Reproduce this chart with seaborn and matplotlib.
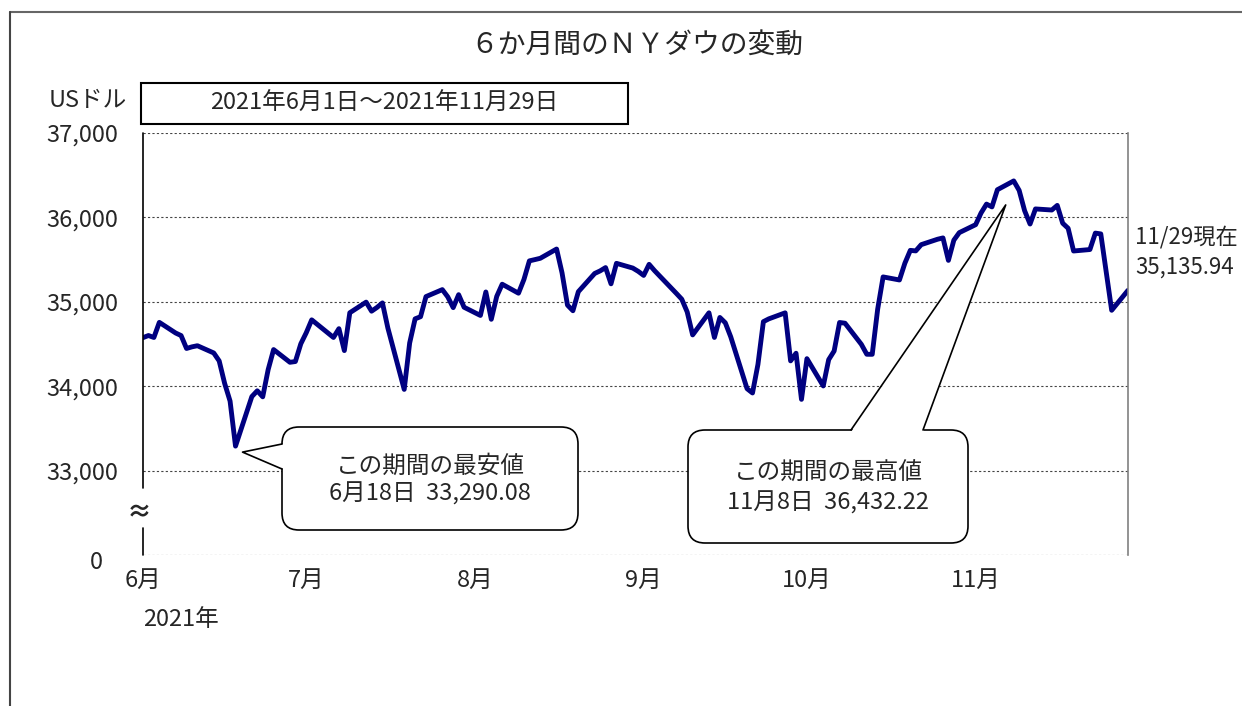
import matplotlib
matplotlib.use("Agg")
import matplotlib.pyplot as plt
import matplotlib.dates as mdates
import matplotlib.transforms as mtransforms
from matplotlib.patches import FancyBboxPatch, Polygon, Rectangle
from matplotlib.lines import Line2D
import pandas as pd
import seaborn as sns

# NYダウ 終値 (2021/6/1 - 2021/11/29)
jun_days = [1, 2, 3, 4, 7, 8, 9, 10, 11, 14, 15, 16, 17, 18, 21, 22, 23, 24, 25, 28, 29, 30]
jun_close = [34575.31, 34600.38, 34577.37, 34756.39, 34630.24, 34599.82, 34447.14, 34466.24,
             34479.60, 34393.75, 34299.33, 34033.67, 33823.45, 33290.08, 33876.97, 33945.58,
             33874.24, 34196.82, 34433.84, 34283.27, 34292.29, 34502.51]
jul_days = [1, 2, 6, 7, 8, 9, 12, 13, 14, 15, 16, 19, 20, 21, 22, 23, 26, 27, 28, 29, 30]
jul_close = [34633.53, 34786.35, 34577.37, 34681.79, 34421.93, 34870.16, 34996.18, 34888.79,
             34933.23, 34987.02, 34687.85, 33962.04, 34511.99, 34798.00, 34823.35, 35061.55,
             35144.31, 35058.52, 34930.93, 35084.53, 34935.47]
aug_days = [2, 3, 4, 5, 6, 9, 10, 11, 12, 13, 16, 17, 18, 19, 20, 23, 24, 25, 26, 27, 30, 31]
aug_close = [34838.16, 35116.40, 34792.67, 35064.25, 35208.51, 35101.85, 35264.67, 35484.97,
             35499.85, 35515.38, 35625.40, 35343.28, 34960.69, 34894.12, 35120.08, 35335.71,
             35366.26, 35405.50, 35213.12, 35455.80, 35399.84, 35360.73]
sep_days = [1, 2, 3, 7, 8, 9, 10, 13, 14, 15, 16, 17, 20, 21, 22, 23, 24, 27, 28, 29, 30]
sep_close = [35312.53, 35443.82, 35369.09, 35100.00, 35031.07, 34879.38, 34607.72, 34869.63,
             34577.57, 34814.39, 34751.32, 34584.88, 33970.47, 33919.84, 34258.32, 34764.82,
             34798.00, 34869.37, 34299.99, 34390.72, 33843.92]
oct_days = [1, 4, 5, 6, 7, 8, 11, 12, 13, 14, 15, 18, 19, 20, 21, 22, 25, 26, 27, 28, 29]
oct_close = [34326.46, 34002.92, 34314.67, 34416.99, 34754.94, 34746.25, 34496.06, 34378.34,
             34377.81, 34912.56, 35294.76, 35258.61, 35457.31, 35609.34, 35603.08, 35677.02,
             35741.15, 35756.88, 35490.69, 35730.48, 35819.56]
nov_days = [1, 2, 3, 4, 5, 8, 9, 10, 11, 12, 15, 16, 17, 18, 19, 22, 23, 24, 26, 29]
nov_close = [35913.84, 36052.63, 36157.58, 36124.23, 36327.95, 36432.22, 36319.98, 36079.94,
             35921.23, 36100.31, 36087.45, 36142.22, 35931.05, 35870.95, 35601.98, 35619.25,
             35813.80, 35804.38, 34899.34, 35135.94]

month_ticks = ["2021-06-01", "2021-07-01", "2021-08-01", "2021-09-01", "2021-10-01", "2021-11-01"]
month_labels = ["6月", "7月", "8月", "9月", "10月", "11月"]
y_ticks = [32000, 33000, 34000, 35000, 36000, 37000]
y_labels = ["0", "33,000", "34,000", "35,000", "36,000", "37,000"]

rows = []
for m, days, vals in [(6, jun_days, jun_close), (7, jul_days, jul_close), (8, aug_days, aug_close),
                      (9, sep_days, sep_close), (10, oct_days, oct_close), (11, nov_days, nov_close)]:
    for d, v in zip(days, vals):
        rows.append((pd.Timestamp(2021, m, d), v))
df = pd.DataFrame(rows, columns=["date", "close"])

sns.set_style("white")
plt.rcParams["font.family"] = ["Noto Sans CJK JP", "DejaVu Sans"]

W, H = 1242, 706
fig = plt.figure(figsize=(W / 100, H / 100), dpi=100)


def fx(x):
    return x / W


def fy(y):
    return 1 - y / H


ax = fig.add_axes([fx(143), fy(555), (1128 - 143) / W, (555 - 133) / H])
sns.lineplot(data=df, x="date", y="close", ax=ax, color="#000080", linewidth=3.5)

ax.set_xlim(df["date"].iloc[0], df["date"].iloc[-1])
ax.set_ylim(y_ticks[0], y_ticks[-1])
ax.set_yticks(y_ticks, y_labels, fontsize=17)
ax.set_xticks(pd.to_datetime(month_ticks), month_labels, fontsize=17)
ax.set_xlabel("")
ax.set_ylabel("")
ax.tick_params(length=0)
ax.tick_params(axis="y", pad=18)
ax.tick_params(axis="x", pad=10)
ax.grid(axis="y", color="#444444", linestyle=(0, (2, 2)), linewidth=0.8)
ax.grid(axis="x", visible=False)
for s in ["top", "bottom", "left"]:
    ax.spines[s].set_visible(False)
ax.spines["right"].set_color("#808080")
ax.spines["right"].set_linewidth(1.2)

# "0" label sits a little left/below
lab0 = ax.get_yticklabels()[0]
lab0.set_transform(lab0.get_transform() + mtransforms.ScaledTranslation(-0.15, -0.05, fig.dpi_scale_trans))

# left axis with break
ytr = ax.get_yaxis_transform()
ax.plot([0, 0], [32000, 32320], transform=ytr, color="black", lw=1.2, clip_on=False)
ax.plot([0, 0], [32794, 37000], transform=ytr, color="black", lw=1.2, clip_on=False)
fig.text(fx(139), fy(512), "≈", ha="center", va="center", fontsize=18, fontweight="bold")

# outer frame
ident = mtransforms.IdentityTransform()
fig.add_artist(Line2D([10, W], [H - 12, H - 12], transform=ident, color="#666666", lw=1.5))
fig.add_artist(Line2D([10, 10], [H - 12, 0], transform=ident, color="#444444", lw=1.5))

# titles / labels
fig.text(fx(637), fy(45), "６か月間のＮＹダウの変動", ha="center", va="center", fontsize=20)
fig.text(fx(127), fy(100), "USドル", ha="right", va="center", fontsize=17)
fig.add_artist(Rectangle((fx(141), fy(124)), (628 - 141) / W, (124 - 83) / H,
                         transform=fig.transFigure, fill=False, ec="black", lw=1.5))
d0, d1 = df["date"].iloc[0], df["date"].iloc[-1]
fig.text(fx(384), fy(103), f"{d0.year}年{d0.month}月{d0.day}日～{d1.year}年{d1.month}月{d1.day}日",
         ha="center", va="center", fontsize=17)
fig.text(fx(143), fy(620), "2021年", ha="left", va="center", fontsize=17)
fig.text(fx(1135), fy(237), f"{d1.month}/{d1.day}現在", ha="left", va="center", fontsize=16)
fig.text(fx(1135), fy(267), f"{df['close'].iloc[-1]:,.2f}", ha="left", va="center", fontsize=16)


def callout(box, base, tip_offset, row, title):
    # box: (left, top, right, bottom) in image px
    l, t, r, b = box
    fig.add_artist(FancyBboxPatch((l, H - b), r - l, b - t,
                                  boxstyle="round,pad=0,rounding_size=17",
                                  transform=ident, fc="white", ec="black", lw=1.2))
    px, py = ax.transData.transform((mdates.date2num(row["date"]), row["close"]))
    tip = (px + tip_offset[0], py + tip_offset[1])
    (x1, y1), (x2, y2), inner = base
    p1 = (x1, H - y1)
    p2 = (x2, H - y2)
    q1 = (x1 + inner[0], H - y1 - inner[1])
    q2 = (x2 + inner[0], H - y2 - inner[1])
    fig.add_artist(Polygon([q1, tip, q2], closed=True, transform=ident, fc="white", ec="none"))
    fig.add_artist(Line2D([p1[0], tip[0], p2[0]], [p1[1], tip[1], p2[1]],
                          transform=ident, color="black", lw=1.2))
    cx = (l + r) / 2
    fig.text(cx / W, 1 - (t + (b - t) * 0.38) / H, title, ha="center", va="center", fontsize=17)
    d = row["date"]
    fig.text(cx / W, 1 - (t + (b - t) * 0.65) / H,
             f"{d.month}月{d.day}日  {row['close']:,.2f}", ha="center", va="center", fontsize=17)


low = df.loc[df["close"].idxmin()]
high = df.loc[df["close"].idxmax()]
callout((282, 427, 578, 530), ((282, 444), (282, 469), (2, 0)), (7, -6), low, "この期間の最安値")
callout((688, 430, 968, 543), ((851, 430), (923, 430), (0, 2)), (-8, -24), high, "この期間の最高値")

fig.savefig("out.png", dpi=100)
